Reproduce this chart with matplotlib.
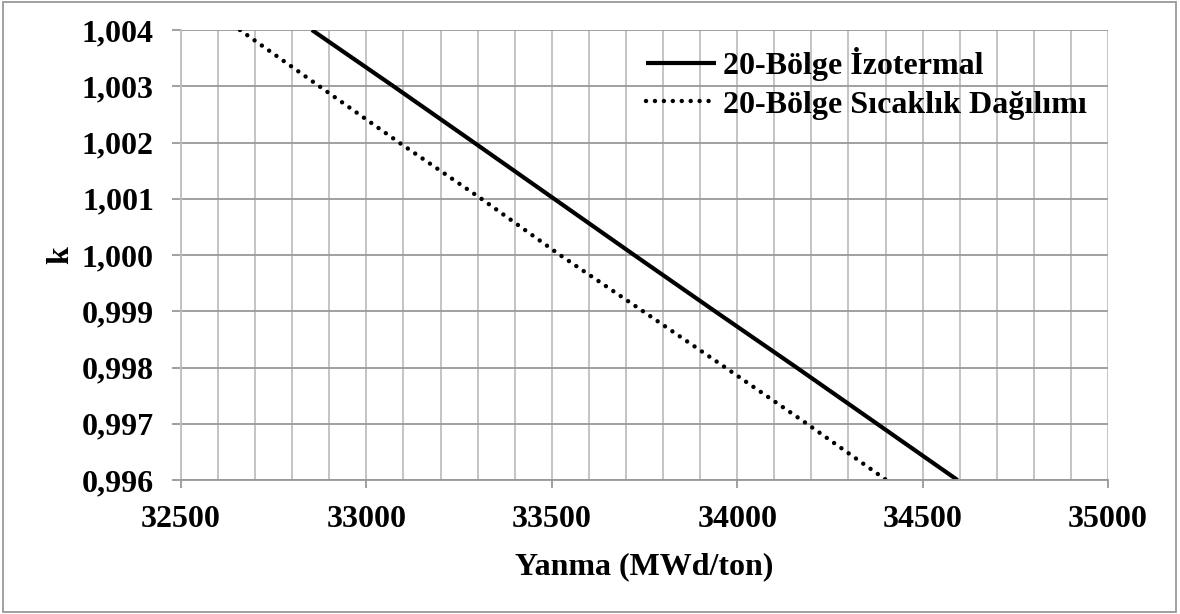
import matplotlib
matplotlib.use("Agg")
import matplotlib.pyplot as plt
from matplotlib.patches import Rectangle
from matplotlib.ticker import MultipleLocator, FuncFormatter

# burnup (MWd/ton) where each curve crosses the k grid lines
k_levels = [1.004, 1.003, 1.002, 1.001, 1.000, 0.999, 0.998, 0.997, 0.996]
burnup_iso = [32853, 33073, 33290, 33506, 33722, 33940, 34160, 34377, 34594]
burnup_temp = [32659, 32873, 33088, 33310, 33522, 33746, 33968, 34188, 34402]

label_iso = "20-Bölge İzotermal"
label_temp = "20-Bölge Sıcaklık Dağılımı"

plt.rcParams['font.family'] = ['Liberation Serif', 'DejaVu Serif']
plt.rcParams['font.weight'] = 'bold'

fig = plt.figure(figsize=(11.8, 6.14), dpi=100)
ax = fig.add_axes([181 / 1180, 1 - 480 / 614, 927 / 1180, 450 / 614])

ax.plot(burnup_iso, k_levels, color='black', lw=3.0, solid_capstyle='butt',
        label=label_iso)
ax.plot(burnup_temp, k_levels, color='black', lw=3.2, linestyle=(0, (0.01, 2.0)),
        dash_capstyle='round', label=label_temp)

ax.set_xlim(32500, 35000)
ax.set_ylim(0.996, 1.004)
ax.xaxis.set_major_locator(MultipleLocator(500))
ax.xaxis.set_minor_locator(MultipleLocator(100))
ax.yaxis.set_major_locator(MultipleLocator(0.001))
ax.yaxis.set_major_formatter(FuncFormatter(lambda v, p: f"{v:.3f}".replace('.', ',')))

ax.grid(which='both', axis='x', color='#bfbfbf', lw=1.3)
ax.grid(which='major', axis='y', color='#999999', lw=1.3)
ax.set_axisbelow(True)

for s in ['top', 'right']:
    ax.spines[s].set_visible(False)
ax.spines['left'].set_color('#bfbfbf')
ax.spines['left'].set_linewidth(1.3)
ax.spines['bottom'].set_color('#999999')
ax.spines['bottom'].set_linewidth(1.3)

ax.tick_params(axis='x', which='major', length=5.8, width=1.3, color='#999999',
               labelsize=23, pad=12)
ax.tick_params(axis='x', which='minor', length=0)
ax.tick_params(axis='y', which='major', length=6.5, width=1.3, color='#999999',
               labelsize=23, pad=13)

ax.set_xlabel("Yanma (MWd/ton)", fontsize=23, fontweight='bold', labelpad=13)
ax.set_ylabel("k", fontsize=23, fontweight='bold', labelpad=5)

leg = ax.legend(loc='upper left', bbox_to_anchor=(0.488, 0.99), frameon=False,
                fontsize=23, handlelength=2.2, handletextpad=0.2, labelspacing=0.28,
                borderaxespad=0)
for t in leg.get_texts():
    t.set_fontweight('bold')

fig.patches.append(Rectangle((3 / 1180, 2 / 614), 1173 / 1180, 610 / 614,
                             transform=fig.transFigure, fill=False,
                             edgecolor='#999999', lw=1.3))

fig.savefig("out.png", dpi=100)
